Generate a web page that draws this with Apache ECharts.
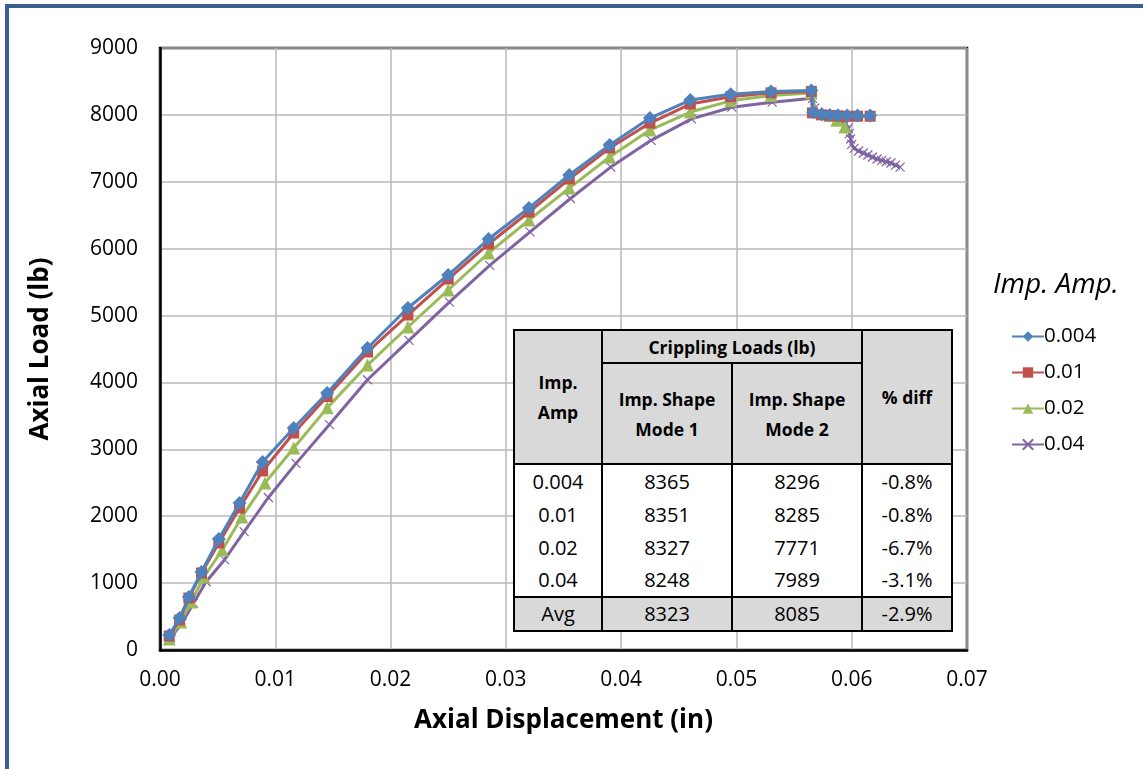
<!DOCTYPE html>
<html>
<head>
<meta charset="utf-8">
<script src="https://cdn.jsdelivr.net/npm/echarts@6/dist/echarts.min.js"></script>
<style>
  html, body { margin: 0; padding: 0; background: #fff; overflow: hidden; }
  #frame { position: absolute; left: 5px; top: 4px; width: 1200px; height: 820px; border: 4px solid #3B5F8E; box-sizing: border-box; }
  #chart { position: absolute; left: 0; top: 0; width: 1143px; height: 769px; }
  #loads { position: absolute; left: 513px; top: 329px; border-collapse: collapse; background: #fff;
    font-family: 'Open Sans', 'Noto Sans', sans-serif; font-size: 20px; color: #000; }
  #loads td { border-left: 2.5px solid #000; border-right: 2.5px solid #000; text-align: center; padding: 0; line-height: 24px; }
  #loads .hd { background: #D9D9D9; font-weight: bold; border: 2.5px solid #000; font-size: 17.5px; line-height: 30px; }
  #loads .avg td { background: #D9D9D9; border: 2.5px solid #000; }
</style>
</head>
<body>
<div id="frame"></div>
<div id="chart"></div>
<table id="loads"></table>
<script>
// displacement (in) / load (lb)
const xBlue = [0.0008, 0.0017, 0.0025, 0.0036, 0.0051, 0.0069, 0.0089, 0.0116, 0.0145, 0.018, 0.0215, 0.025, 0.0285, 0.032, 0.0355, 0.039, 0.0425, 0.046, 0.0495, 0.053, 0.0565,
  0.05665, 0.0574, 0.0581, 0.0588, 0.0596, 0.0605, 0.0616];
const yBlue = [224, 478, 792, 1166, 1659, 2197, 2810, 3319, 3842, 4515, 5113, 5606, 6144, 6608, 7101, 7550, 7953, 8222, 8310, 8350, 8365,
  8040, 8010, 8000, 7995, 7990, 7990, 7990];
const xRed = [0.0008, 0.0017, 0.0025, 0.0036, 0.0051, 0.0069, 0.0089, 0.0116, 0.0145, 0.018, 0.0215, 0.025, 0.0285, 0.032, 0.0355, 0.039, 0.0425, 0.046, 0.0495, 0.053, 0.0565,
  0.0566, 0.0574, 0.0581, 0.0588, 0.0596, 0.0605, 0.0616];
const yRed = [209, 448, 777, 1151, 1600, 2123, 2676, 3244, 3790, 4455, 5008, 5546, 6070, 6548, 7041, 7504, 7878, 8162, 8270, 8330, 8351,
  8030, 8000, 7990, 7985, 7980, 7980, 7980];
const xGreen = [0.0008, 0.0018, 0.0027, 0.0038, 0.0054, 0.0071, 0.0091, 0.0116, 0.0145, 0.018, 0.0215, 0.025, 0.0285, 0.032, 0.0355, 0.039, 0.0425, 0.046, 0.0495, 0.053, 0.0565,
  0.0568, 0.0574, 0.0581, 0.0587, 0.0594];
const yGreen = [164, 419, 718, 1091, 1495, 1988, 2496, 3020, 3620, 4260, 4829, 5382, 5935, 6428, 6906, 7370, 7773, 8043, 8210, 8290, 8327,
  8050, 8030, 7990, 7920, 7820];
const xPurple = [0.0009, 0.0019, 0.0029, 0.004, 0.0056, 0.0073, 0.0094, 0.0118, 0.0147, 0.018, 0.0216, 0.0251, 0.0286, 0.0321, 0.0356, 0.0391, 0.0426, 0.0461, 0.0496, 0.0531, 0.0566,
  0.0568, 0.0572, 0.0578, 0.0584, 0.059, 0.0595, 0.0597, 0.0598, 0.0599, 0.06, 0.0602, 0.0606, 0.061, 0.0614, 0.0618, 0.0622, 0.0626, 0.063, 0.0634, 0.0638, 0.0642];
const yPurple = [180, 400, 700, 1020, 1350, 1770, 2280, 2790, 3370, 4040, 4630, 5200, 5750, 6250, 6750, 7220, 7620, 7940, 8115, 8190, 8248,
  8100, 8020, 7990, 7960, 7920, 7870, 7800, 7720, 7640, 7560, 7500, 7460, 7430, 7400, 7370, 7340, 7320, 7300, 7280, 7250, 7220];

const seriesNames = ['0.004', '0.01', '0.02', '0.04'];
const colors = ['#4F81BD', '#C0504D', '#9BBB59', '#8064A2'];

// inset table
const ampLabels = ['0.004', '0.01', '0.02', '0.04'];
const mode1Loads = [8365, 8351, 8327, 8248];
const mode2Loads = [8296, 8285, 7771, 7989];
const pctDiff = ['-0.8%', '-0.8%', '-6.7%', '-3.1%'];
const avgRow = ['Avg', '8323', '8085', '-2.9%'];

const font = "'Open Sans', 'Noto Sans', sans-serif";
const pairs = (xs, ys) => xs.map((x, i) => [x, ys[i]]);

function renderTable() {
  const table = document.getElementById('loads');
  const body = ampLabels.map((amp, i) => `
    <tr style="height:${i === 0 ? 34 : 33}px">
      <td>${amp}</td><td>${mode1Loads[i]}</td><td>${mode2Loads[i]}</td><td>${pctDiff[i]}</td>
    </tr>`).join('');
  table.innerHTML = `
    <tr style="height:33px">
      <td class="hd" rowspan="2" style="width:86px">Imp.<br>Amp</td>
      <td class="hd" colspan="2">Crippling Loads (lb)</td>
      <td class="hd" rowspan="2" style="width:88px">% diff</td>
    </tr>
    <tr style="height:101px">
      <td class="hd" style="width:128px">Imp. Shape<br>Mode 1</td>
      <td class="hd" style="width:128px">Imp. Shape<br>Mode 2</td>
    </tr>
    ${body}
    <tr class="avg" style="height:34px">${avgRow.map((v) => `<td>${v}</td>`).join('')}</tr>`;
}

const chart = echarts.init(document.getElementById('chart'));

const symbols = [
  { symbol: 'diamond', symbolSize: 14 },
  { symbol: 'rect', symbolSize: 11 },
  { symbol: 'triangle', symbolSize: 13 },
  { symbol: 'path://M0,0 L10,10 M10,0 L0,10', symbolSize: 9 },
];
const data = [pairs(xBlue, yBlue), pairs(xRed, yRed), pairs(xGreen, yGreen), pairs(xPurple, yPurple)];

chart.setOption({
  animation: false,
  backgroundColor: 'transparent',
  grid: { left: 160, right: 176, top: 48, bottom: 119, show: true, borderColor: '#000', borderWidth: 2.5, backgroundColor: 'transparent' },
  legend: {
    orient: 'vertical', left: 1006, top: 321, itemWidth: 32, itemHeight: 13, itemGap: 15,
    textStyle: { fontFamily: font, fontSize: 20.5, color: '#000', padding: [0, 0, 0, -5] },
    data: seriesNames,
  },
  graphic: [
    { type: 'text', left: 993, top: 271, style: { text: 'Imp. Amp.', fontFamily: font, fontSize: 28, fontStyle: 'italic', fill: '#000' } },
  ],
  xAxis: {
    type: 'value', min: 0, max: 0.07, interval: 0.01,
    name: 'Axial Displacement (in)', nameLocation: 'middle', nameGap: 58,
    nameTextStyle: { fontFamily: font, fontSize: 26, fontWeight: 'bold', color: '#000' },
    axisLine: { lineStyle: { color: '#000', width: 2.5 } },
    axisTick: { show: false },
    axisLabel: { fontFamily: font, fontSize: 21, color: '#000', margin: 20, formatter: (v) => v.toFixed(2) },
    splitLine: { lineStyle: { color: '#B8B8B8', width: 1.5 } },
  },
  yAxis: {
    type: 'value', min: 0, max: 9000, interval: 1000,
    name: 'Axial Load (lb)', nameLocation: 'middle', nameGap: 106,
    nameTextStyle: { fontFamily: font, fontSize: 26, fontWeight: 'bold', color: '#000' },
    axisLine: { show: true, lineStyle: { color: '#000', width: 2.5 } },
    axisTick: { show: false },
    axisLabel: { fontFamily: font, fontSize: 21, color: '#000', margin: 22, formatter: (v) => String(v) },
    splitLine: { lineStyle: { color: '#B8B8B8', width: 1.5 } },
  },
  series: seriesNames.map((name, i) => ({
    name,
    type: 'line',
    data: data[i],
    color: colors[i],
    symbol: symbols[i].symbol,
    symbolSize: symbols[i].symbolSize,
    showAllSymbol: true,
    lineStyle: { width: 3 },
    itemStyle: i === 3 ? { color: colors[i], borderColor: colors[i], borderWidth: 1.2 } : { color: colors[i] },
    z: 10 - i,
  })),
});

renderTable();
</script>
</body>
</html>
